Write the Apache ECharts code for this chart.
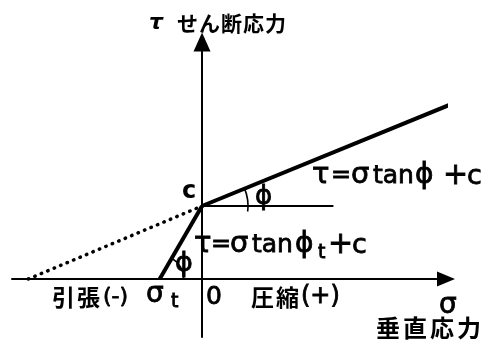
<!DOCTYPE html>
<html><head><meta charset="utf-8">
<script src="https://cdn.jsdelivr.net/npm/echarts@6/dist/echarts.min.js"></script>
<style>html,body{margin:0;padding:0;background:#fff}#c{width:495px;height:344px}</style>
</head><body><div id="c"></div>
<script>
// ---- data (arbitrary stress units, c = 10) ----
const cohesion = 10;
const sigmaT = -5.8;
const upperEnvelope = [[0, 10], [34.5, 24.1]];      // τ = σ tanφ + c
const tensileEnvelope = [[-5.8, 0], [0, 10]];       // τ = σ tanφt + c
const dottedExtension = [[-23.8, 0], [0, 10]];      // extension of upper envelope
const horizontalRef = [[0, 10], [18, 10]];
const xRange = [-26.03, 33.42];
const yRange = [-7.95, 32.47];

const CJK = '"Noto Sans CJK JP", sans-serif';
const LAT = '"DejaVu Sans", sans-serif';
const chart = echarts.init(document.getElementById('c'), null, {renderer: 'canvas'});

function txt(s, x, y, size, font, extra) {
  return {type: 'text', style: Object.assign({text: s, x: x, y: y, fontSize: size, fontFamily: font || LAT,
    fill: '#000', textVerticalAlign: 'middle', textAlign: 'left', fontWeight: 'bold'}, extra || {})};
}
function spaced(s, x, y, size, adv) {
  return Array.from(s).map((ch, i) => txt(ch, x + i * adv, y, size, CJK));
}

const angUpper = Math.atan2(upperEnvelope[1][1] - upperEnvelope[0][1], upperEnvelope[1][0] - upperEnvelope[0][0]);
const angT = Math.atan2(tensileEnvelope[1][1] - tensileEnvelope[0][1], tensileEnvelope[1][0] - tensileEnvelope[0][0]);
const arcData = [[0, cohesion, 46, angUpper, -0.12], [sigmaT, 0, 24, angT, 0]];

const lineSeries = (data, style) => ({type: 'line', data: data, symbol: 'none', clip: false, silent: true,
  lineStyle: Object.assign({color: '#000'}, style), z: 3});
const NORM = {fontWeight: 'normal', stroke: '#000', lineWidth: 0.8};

chart.setOption({
  animation: false,
  grid: {left: 12, right: 49, top: 42, bottom: 7, containLabel: false},
  xAxis: {type: 'value', min: xRange[0], max: xRange[1],
    axisLine: {show: true, onZero: true, lineStyle: {color: '#000', width: 2}, symbol: ['none', 'triangle'], symbolSize: [15, 18]},
    axisTick: {show: false}, axisLabel: {show: false}, splitLine: {show: false}},
  yAxis: {type: 'value', min: yRange[0], max: yRange[1],
    axisLine: {show: true, onZero: true, lineStyle: {color: '#000', width: 2}, symbol: ['none', 'triangle'], symbolSize: [17, 19]},
    axisTick: {show: false}, axisLabel: {show: false}, splitLine: {show: false}},
  series: [
    lineSeries(upperEnvelope, {width: 4}),
    lineSeries(tensileEnvelope, {width: 4}),
    lineSeries(dottedExtension, {width: 3.5, type: [0.5, 6.5], cap: 'round'}),
    lineSeries(horizontalRef, {width: 2}),
    {type: 'custom', data: arcData, silent: true, z: 3,
      renderItem: function (params, api) {
        const p = api.coord([api.value(0), api.value(1)]);
        const r = api.value(2);
        return {type: 'arc', shape: {cx: p[0], cy: p[1], r: r, startAngle: -api.value(3), endAngle: -api.value(4), clockwise: true},
          style: {stroke: '#000', lineWidth: 1.6, fill: null}};
      }}
  ],
  graphic: [].concat(
    // heading
    [txt('τ', 149, 23, 22, LAT, {fontStyle: 'italic'})],
    spaced('せん断応力', 177, 23, 21, 22),
    // c label and upper angle
    [txt('c', 182, 192, 24),
     txt('ϕ', 255, 197, 26, LAT, NORM)],
    // upper formula
    [txt('τ', 312, 175, 29, LAT, NORM),
     txt('=', 331, 176, 24, LAT, NORM),
     txt('σ', 351, 175, 29, LAT, NORM),
     txt('tan', 373, 176, 25, LAT, NORM),
     txt('ϕ', 415, 176, 28, LAT, NORM),
     txt('+', 443, 176, 30, LAT, NORM),
     txt('c', 467, 177, 27, LAT, NORM)],
    // lower formula
    [txt('τ', 194, 244, 29, LAT, NORM),
     txt('=', 211, 245, 24, LAT, NORM),
     txt('σ', 230, 244, 29, LAT, NORM),
     txt('tan', 252, 245, 25, LAT, NORM),
     txt('ϕ', 295, 245, 28, LAT, NORM),
     txt('t', 318, 253, 19, LAT, NORM),
     txt('+', 328, 245, 30, LAT, NORM),
     txt('c', 352, 246, 27, LAT, NORM)],
    [txt('ϕ', 175, 264, 27, LAT, NORM)],
    // bottom labels
    spaced('引張', 52, 297, 23, 25),
    [txt('(-)', 103, 297, 22, LAT, NORM),
     txt('σ', 146, 295, 28, LAT, NORM),
     txt('t', 171, 302, 19, LAT, NORM),
     txt('0', 206, 297, 25, LAT, NORM)],
    spaced('圧縮', 251, 297, 23, 25),
    [txt('(+)', 301, 297, 24, LAT, NORM),
     txt('σ', 439, 306, 28, LAT, NORM)],
    spaced('垂直応力', 376, 328, 24, 27)
  )
});
</script></body></html>
